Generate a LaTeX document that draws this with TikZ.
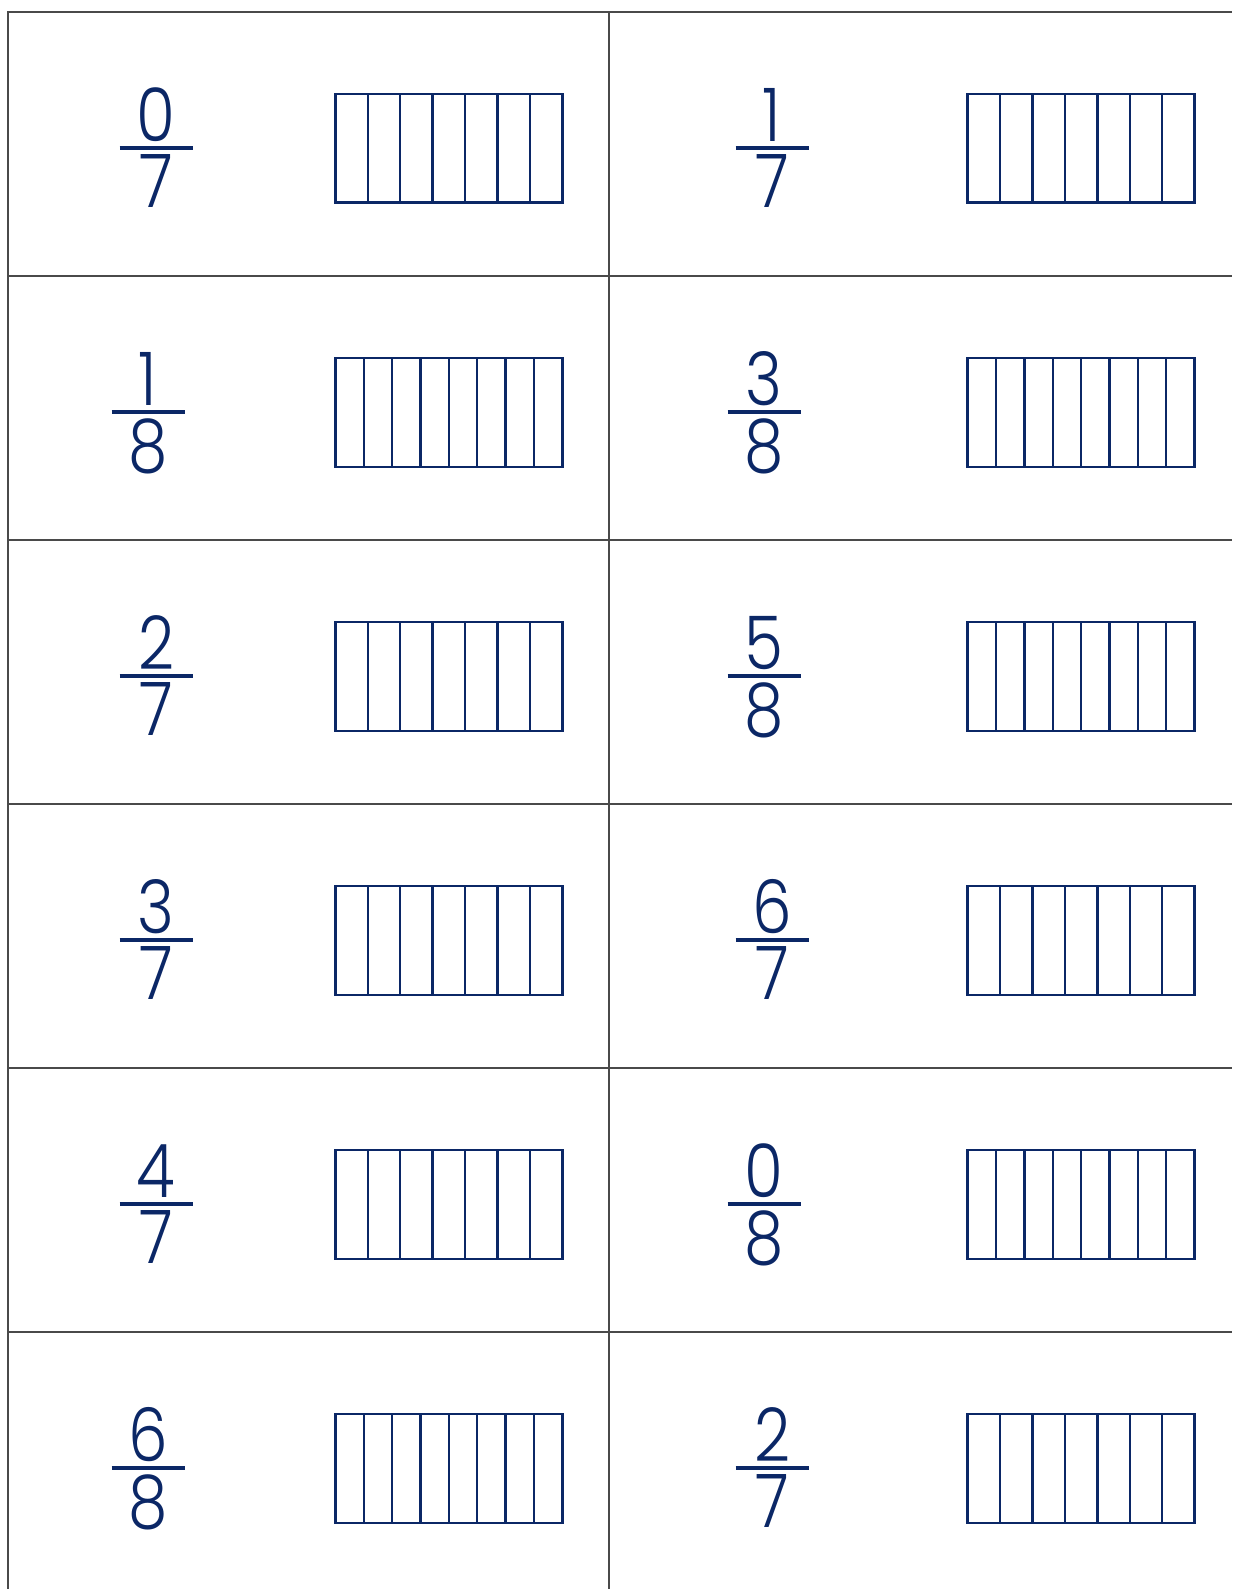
\documentclass[tikz,border=0pt]{standalone}
\usepackage{fontspec}
\setmainfont{Poppins}[UprightFont={* Light},FakeStretch=0.85]
\definecolor{CardBlue}{HTML}{0B2766}
\definecolor{CardLine}{HTML}{4A4A4A}

\begin{document}
\begin{tikzpicture}[x=0.5pt,y=-0.5pt]
  \tikzset{digit/.style={CardBlue,inner sep=0pt,font=\fontsize{37}{37}\selectfont},
    fracbar/.style={CardBlue,line width=2pt},
    strip/.style={CardBlue,line width=1.2pt},
    cardline/.style={CardLine,line width=0.75pt}}
  \useasboundingbox (0,0) rectangle (1232,1589);
  % card grid
  \draw[cardline] (8,1589)--(8,12.2)--(1232,12.2);
  \draw[cardline] (609,12.2)--(609,1589);
  \foreach \r in {1,...,5}
    \draw[cardline] (8,12.2+264*\r)--(1232,12.2+264*\r);
  % fraction cards
  \foreach \r/\c/\n/\d in {0/0/0/7, 0/1/1/7, 1/0/1/8, 1/1/3/8, 2/0/2/7, 2/1/5/8,
      3/0/3/7, 3/1/6/7, 4/0/4/7, 4/1/0/8, 5/0/6/8, 5/1/2/7} {
    \pgfmathsetmacro\yt{12.2+264*\r}
    \pgfmathsetmacro\fx{156+616*\c-(\d==8)*8}
    \pgfmathsetmacro\rx{335.4+632.2*\c}
    \pgfmathtruncatemacro\last{\d-1}
    \node[digit,anchor=south] (num\r\c) at (\fx,\yt+130) {\n};
    \node[digit,anchor=north] (den\r\c) at (\fx,\yt+142) {\d};
    \draw[fracbar] (\fx-36.5,\yt+136)--(\fx+36.5,\yt+136);
    \draw[strip] (\rx,\yt+82) rectangle ++(227,108.5);
    \foreach \k in {1,...,\last}
      \draw[strip] (\rx+227*\k/\d,\yt+82)--++(0,108.5);
  }
\end{tikzpicture}
\end{document}
